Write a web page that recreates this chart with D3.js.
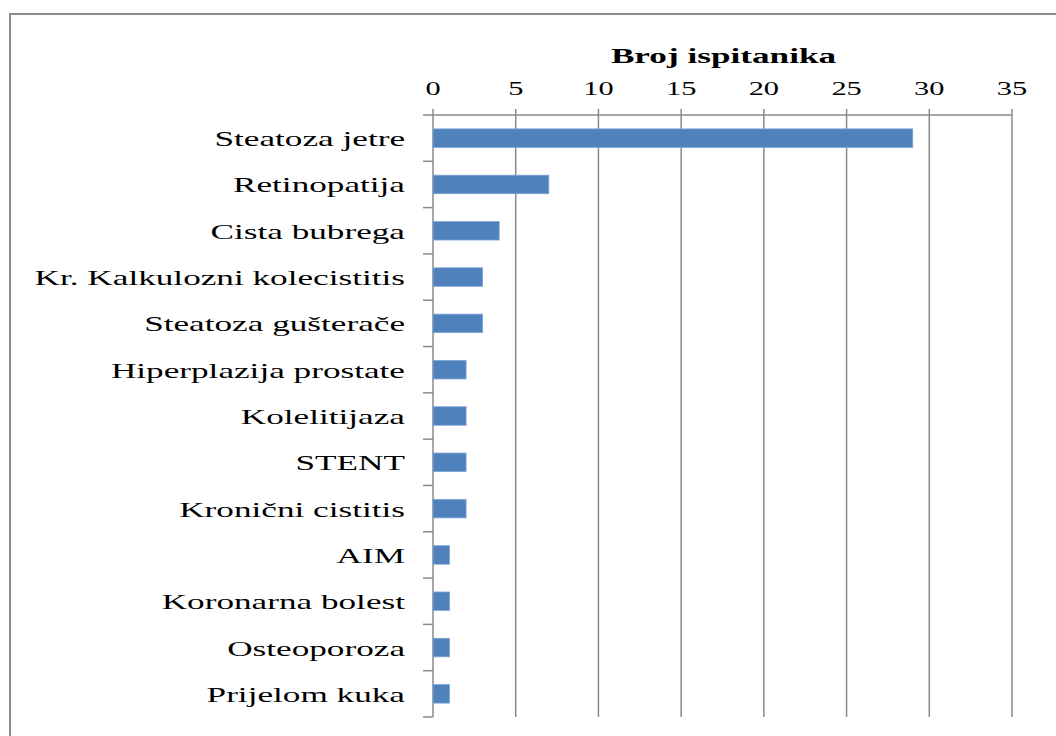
<!DOCTYPE html>
<html>
<head>
<meta charset="utf-8">
<script src="https://cdn.jsdelivr.net/npm/d3@7"></script>
<style>
  body { margin: 0; background: #fff; }
  svg { display: block; }
  text { font-family: "Liberation Serif", "Times New Roman", serif; fill: #000; }
</style>
</head>
<body>
<svg id="chart"></svg>
<script>
// data
var categories = ["Steatoza jetre", "Retinopatija", "Cista bubrega", "Kr. Kalkulozni kolecistitis",
  "Steatoza gušterače", "Hiperplazija prostate", "Kolelitijaza", "STENT", "Kronični cistitis",
  "AIM", "Koronarna bolest", "Osteoporoza", "Prijelom kuka"];
var counts = [29, 7, 4, 3, 3, 2, 2, 2, 2, 1, 1, 1, 1];
var xTicks = [0, 5, 10, 15, 20, 25, 30, 35];
var axisTitle = "Broj ispitanika";

var W = 1056, H = 736;
var margin = { top: 115, right: 44, bottom: 19, left: 433 };
var width = W - margin.left - margin.right;
var height = H - margin.top - margin.bottom;
var stretch = 1.6; // the source text is squeezed wide

var svg = d3.select("#chart").attr("width", W).attr("height", H);

// outer frame (runs off the right and bottom of the picture)
svg.append("rect")
  .attr("x", 10).attr("y", 14)
  .attr("width", W + 20).attr("height", H + 20)
  .attr("fill", "none").attr("stroke", "#8c8c8c").attr("stroke-width", 2);

var g = svg.append("g").attr("transform", "translate(" + margin.left + "," + margin.top + ")");

var x = d3.scaleLinear().domain([0, 35]).range([0, width]);
var y = d3.scaleBand().domain(categories).range([0, height]).paddingInner(0.6).paddingOuter(0.3);
var yb = d3.scaleBand().domain(categories).range([0, height]);

// vertical gridlines
g.selectAll(".grid").data(xTicks).enter().append("line")
  .attr("x1", function(d) { return x(d); }).attr("x2", function(d) { return x(d); })
  .attr("y1", -6).attr("y2", height)
  .attr("stroke", "#8a8a8a").attr("stroke-width", 1.5);

// top axis line
g.append("line")
  .attr("x1", -10).attr("x2", x(35)).attr("y1", 0).attr("y2", 0)
  .attr("stroke", "#8a8a8a").attr("stroke-width", 1.5);

// category ticks
var bounds = categories.map(function(c) { return yb(c) + yb.bandwidth(); });
g.selectAll(".ctick").data(bounds).enter().append("line")
  .attr("x1", -10).attr("x2", 0)
  .attr("y1", function(d) { return d; }).attr("y2", function(d) { return d; })
  .attr("stroke", "#8a8a8a").attr("stroke-width", 1.5);

// bars
g.selectAll(".bar").data(counts).enter().append("rect")
  .attr("class", "bar")
  .attr("x", x(0))
  .attr("y", function(d, i) { return y(categories[i]); })
  .attr("width", function(d) { return x(d) - x(0); })
  .attr("height", y.bandwidth())
  .attr("fill", "#4f81bd")
  .attr("stroke", "#7ea3d3").attr("stroke-width", 0.8);

// category labels
g.selectAll(".clabel").data(categories).enter().append("text")
  .attr("transform", function(d) {
    return "translate(-28," + (yb(d) + yb.bandwidth() / 2 + 8) + ") scale(" + stretch + ",1)";
  })
  .attr("text-anchor", "end")
  .attr("font-size", "22px")
  .text(function(d) { return d; });

// tick labels on top
g.selectAll(".xlabel").data(xTicks).enter().append("text")
  .attr("transform", function(d) {
    return "translate(" + x(d) + ",-20) scale(" + stretch + ",1)";
  })
  .attr("text-anchor", "middle")
  .attr("font-size", "19px")
  .text(function(d) { return d; });

// axis title
g.append("text")
  .attr("transform", "translate(" + (width / 2 + 1) + ",-52) scale(" + stretch + ",1)")
  .attr("text-anchor", "middle")
  .attr("font-size", "22px")
  .attr("font-weight", "bold")
  .text(axisTitle);
</script>
</body>
</html>
